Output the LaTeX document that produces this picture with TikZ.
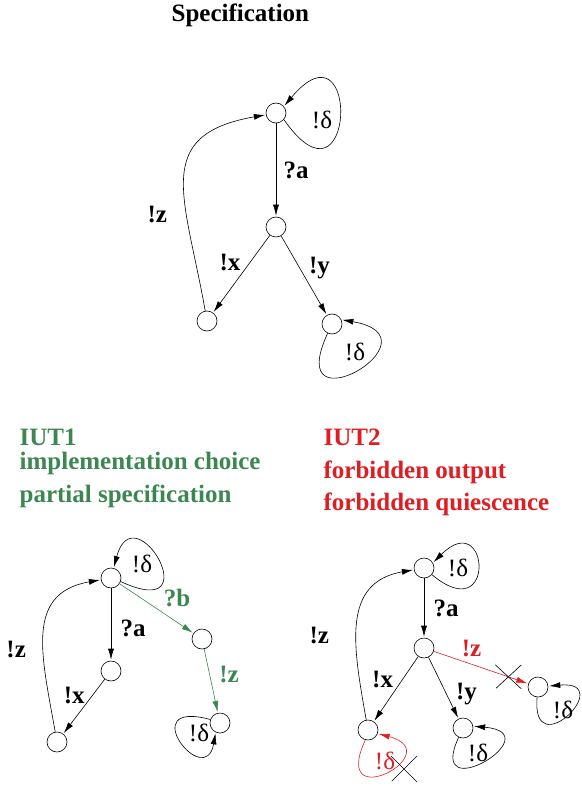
\documentclass[tikz,border=0pt]{standalone}
\usepackage{fontspec}
\setmainfont{Liberation Serif}
\usetikzlibrary{arrows.meta}
\usetikzlibrary{positioning}
\usetikzlibrary{automata}
\usetikzlibrary{calc}

\definecolor{iutgreen}{RGB}{60,135,80}
\definecolor{iutred}{RGB}{222,30,35}

\begin{document}
\begin{tikzpicture}[x=1pt,y=1pt,shorten >=1pt,on grid,auto,
    every state/.style={draw,minimum size=20pt,inner sep=0pt,line width=0.6pt},
    >={Latex[length=11pt,width=6pt]},
    every node/.style={font=\fontsize{25}{30}\selectfont\bfseries},
    quiet/.style={anchor=center,font=\fontsize{25}{30}\selectfont},
    every edge/.append style={line width=0.6pt},
    every path/.append style={line width=0.6pt}]
            \useasboundingbox (0,0) rectangle (581,-786);

            % specification
            \node[anchor=base west] (title) at (168,-22) {Specification};
            \node[state] (s_0) at (276,-113) {};
            \node[state] (s_1) [below=114pt of s_0] {};
            \node[state] (s_2) [below left=94pt and 69pt of s_1] {};
            \node[state] (s_3) [below right=97pt and 56pt of s_1] {};
            \node[quiet] (d_0) [below right=7pt and 46pt of s_0] {!δ};
            \node[quiet] (d_3) [below right=28pt and 23pt of s_3] {!δ};
            \path[->]
            (s_0) edge node[right=4pt] {?a} (s_1)
            (s_1) edge node[pos=0.35,left=6pt] {!x} (s_2)
            (s_1) edge node[pos=0.4,right=6pt] {!y} (s_3)
            (s_2) edge[out=100,in=190,looseness=1.45] node[pos=0.33,left=16pt] {!z} (s_0);
            \draw[->] (s_0.-40) .. controls +(-55:125) and +(50:120) .. (s_0.40);
            \draw[->] (s_3.-115) .. controls +(-115:110) and +(-10:105) .. (s_3.25);

            % first implementation
            \node[anchor=base west,text=iutgreen] (iut_1) at (16,-445) {IUT1};
            \node[anchor=base west,text=iutgreen] (choice_1) at (16,-469) {implementation choice};
            \node[anchor=base west,text=iutgreen] (partial_1) at (16,-502) {partial specification};
            \node[state] (i_0) at (111,-578) {};
            \node[state] (i_1) [below=93pt of i_0] {};
            \node[state] (i_2) [below left=71pt and 54pt of i_1] {};
            \node[state] (i_3) [below right=61pt and 91pt of i_0] {};
            \node[state] (i_4) [below right=84pt and 18pt of i_3] {};
            \node[quiet] (e_0) [above right=14pt and 31pt of i_0] {!δ};
            \node[quiet] (e_4) [below left=10pt and 21pt of i_4] {!δ};
            \path[->]
            (i_0) edge node[pos=0.55,right=6pt] {?a} (i_1)
            (i_1) edge node[pos=0.3,left=4pt] {!x} (i_2)
            (i_2) edge[out=100,in=190,looseness=1.25] node[pos=0.4,left=14pt] {!z} (i_0);
            \path[->, iutgreen]
            (i_0) edge node[pos=0.55,above right=0pt] {?b} (i_3)
            (i_3) edge node[pos=0.4,right=6pt] {!z} (i_4);
            \draw[->] (i_0.-20) .. controls +(-25:100) and +(75:80) .. (i_0.75);
            \draw[->] (i_4.160) .. controls +(165:80) and +(-100:60) .. (i_4.-115);

            % second implementation
            \node[anchor=base west,text=iutred] (iut_2) at (320,-445) {IUT2};
            \node[anchor=base west,text=iutred] (output_2) at (320,-478) {forbidden output};
            \node[anchor=base west,text=iutred] (quiet_2) at (320,-510) {forbidden quiescence};
            \node[state] (j_0) at (424,-568) {};
            \node[state] (j_1) [below=80pt of j_0] {};
            \node[state] (j_2) [below left=82pt and 56pt of j_1] {};
            \node[state] (j_3) [below right=80pt and 39pt of j_1] {};
            \node[state] (j_4) [below right=39pt and 114pt of j_1] {};
            \node[quiet] (f_0) [right=34pt of j_0] {!δ};
            \node[quiet] (f_3) [below right=25pt and 15pt of j_3] {!δ};
            \node[quiet] (f_4) [below right=23pt and 25pt of j_4] {!δ};
            \node[quiet,text=iutred] (f_2) [below right=31pt and 17pt of j_2] {!δ};
            \path[->]
            (j_0) edge node[right=6pt] {?a} (j_1)
            (j_1) edge node[pos=0.35,left=6pt] {!x} (j_2)
            (j_1) edge node[pos=0.6,right=6pt] {!y} (j_3)
            (j_2) edge[out=100,in=190,looseness=1.2] node[pos=0.42,left=24pt] {!z} (j_0);
            \path[->, iutred]
            (j_1) edge node[pos=0.4,above=4pt] {!z} (j_4);
            \draw[->] (j_0.-40) .. controls +(-40:85) and +(45:80) .. (j_0.30);
            \draw[->] (j_3.-115) .. controls +(-115:80) and +(-5:80) .. (j_3.10);
            \draw[->] (j_4.-95) .. controls +(-95:70) and +(5:70) .. (j_4.5);
            \draw[->, iutred] (j_2.-105) .. controls +(-115:85) and +(-15:75) .. (j_2.-20);

            % crossed out
            \coordinate (cut_1) at ($(j_1)!0.74!(j_4)$);
            \coordinate (cut_2) at (404,-769);
            \draw (cut_1) ++(-13,12) -- ++(26,-24) (cut_1) ++(13,12) -- ++(-26,-24);
            \draw (cut_2) ++(-13,13) -- ++(26,-26) (cut_2) ++(13,13) -- ++(-26,-26);
        \end{tikzpicture}
\end{document}
